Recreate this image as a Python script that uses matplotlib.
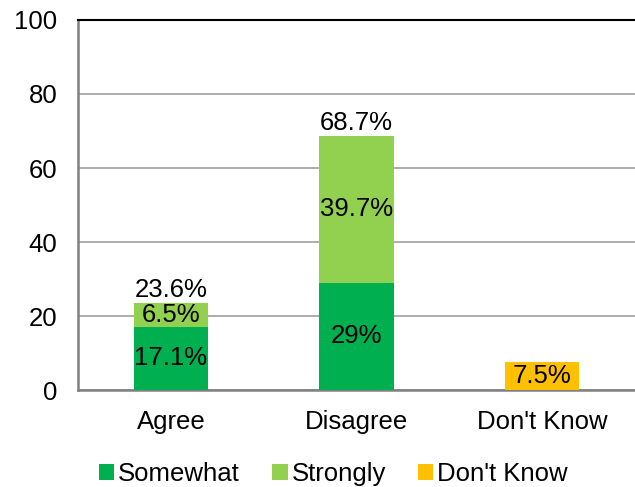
import matplotlib
matplotlib.use("Agg")
import matplotlib.pyplot as plt

plt.rcParams["font.family"] = ["Liberation Sans", "DejaVu Sans"]

CATEGORIES = ["Agree", "Disagree", "Don't Know"]
SOMEWHAT   = [17.1, 29.0, 0.0]
STRONGLY   = [6.5, 39.7, 0.0]
DONT_KNOW  = [0.0, 0.0, 7.5]

C_SOME   = "#00B050"
C_STRONG = "#92D050"
C_DK     = "#FFC000"
FS = 18.5


def pct(v):
    return f"{round(v, 1):g}%"


fig = plt.figure(figsize=(6.35, 4.87), dpi=100)
ax = fig.add_axes([0.123, 0.199, 0.877, 0.76])

x = range(len(CATEGORIES))
w = 0.4
b1 = ax.bar(x, SOMEWHAT, w, color=C_SOME, label="Somewhat", zorder=3)
b2 = ax.bar(x, STRONGLY, w, bottom=SOMEWHAT, color=C_STRONG,
            label="Strongly", zorder=3)
b3 = ax.bar(x, DONT_KNOW, w, color=C_DK, label="Don't Know", zorder=3)

for i in x:
    s, t, d = SOMEWHAT[i], STRONGLY[i], DONT_KNOW[i]
    if s > 0:
        ax.text(i, s / 2, pct(s), ha="center", va="center", fontsize=FS, zorder=4)
    if t > 0:
        ax.text(i, s + t / 2, pct(t), ha="center", va="center", fontsize=FS, zorder=4)
    if s + t > 0:
        ax.text(i, s + t + 0.3, pct(s + t), ha="center", va="bottom",
                fontsize=FS, zorder=4)
    if d > 0:
        ax.text(i, d / 2, pct(d), ha="center", va="center", fontsize=FS, zorder=4)

ax.set_xlim(-0.5, 2.5)
ax.set_ylim(0, 100)
ax.set_yticks(range(0, 101, 20))
ax.set_xticks(list(x))
ax.set_xticklabels(CATEGORIES)
ax.tick_params(axis="both", length=0, labelsize=FS)
ax.tick_params(axis="y", pad=15)
ax.tick_params(axis="x", pad=14)

ax.grid(axis="y", color="#A0A0A0", linewidth=1.2, zorder=0)
ax.spines["right"].set_visible(False)
ax.spines["top"].set_color("black")
ax.spines["top"].set_linewidth(1.5)
for sp in ("left", "bottom"):
    ax.spines[sp].set_color("#808080")
    ax.spines[sp].set_linewidth(1.8)

fig.legend(handles=[b1, b2, b3], loc="center", bbox_to_anchor=(0.525, 0.027),
           ncol=3, frameon=False, fontsize=FS, handlelength=0.6,
           handleheight=0.6, handletextpad=0.15, columnspacing=1.25)

fig.savefig("out.png", dpi=100)
